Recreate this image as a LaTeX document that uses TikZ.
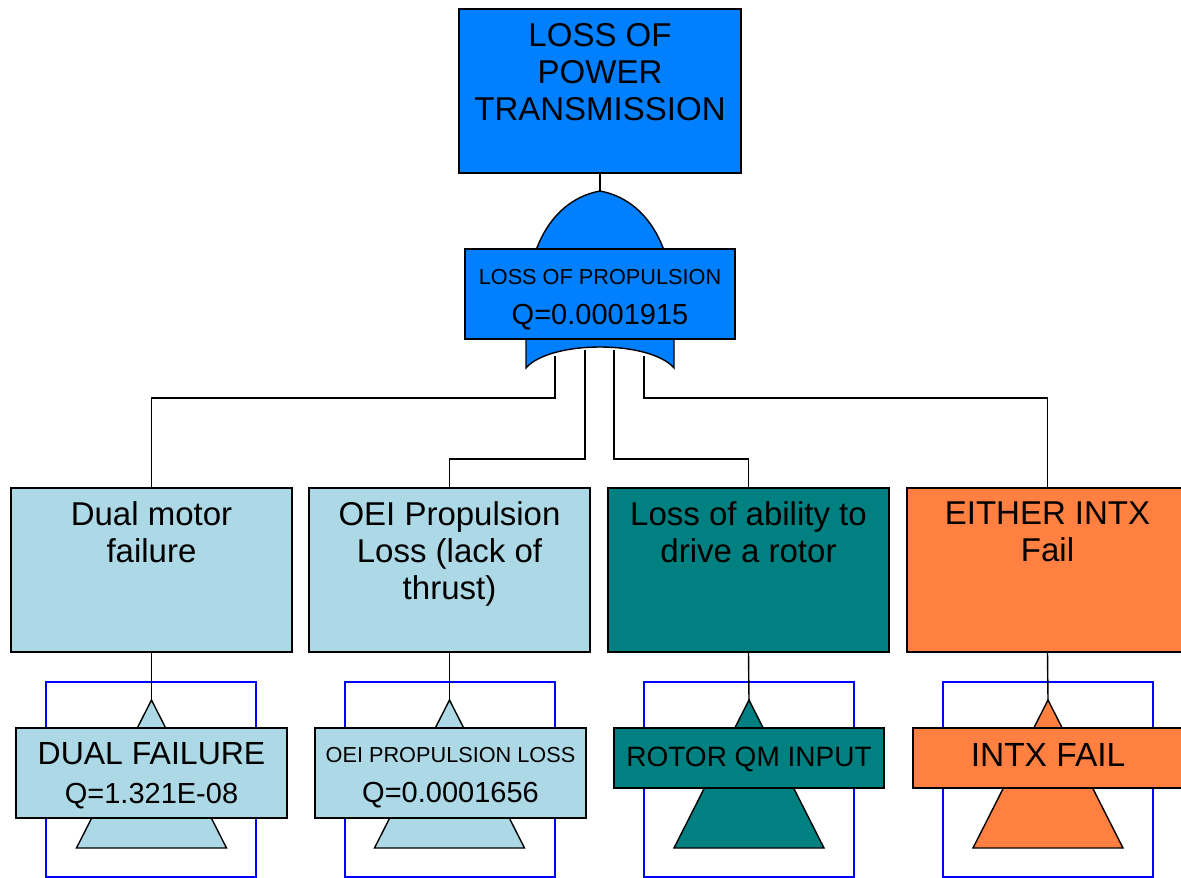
\documentclass[tikz,border=0pt]{standalone}
\usepackage{fontspec}
\setmainfont{Liberation Sans}
\usetikzlibrary{calc}
\definecolor{topblue}{RGB}{0,128,255}
\definecolor{lblue}{RGB}{173,216,230}
\definecolor{tealbox}{RGB}{0,128,128}
\definecolor{orngbox}{RGB}{255,128,64}
\begin{document}
\begin{tikzpicture}[x=1pt,y=-1pt,
  box/.style={draw=black, line width=1.4pt, inner sep=0pt, outer sep=0pt},
  conn/.style={draw=black, line width=1.4pt},
  xfer/.style={draw=blue, line width=1.2pt},
  tri/.style={draw=black, line width=1.4pt},
  txt/.style={inner sep=0pt, outer sep=0pt, align=center, text=black},
  big/.style={font=\fontsize{33}{37}\selectfont},
  small/.style={font=\fontsize{21.7}{26}\selectfont},
  qf/.style={font=\fontsize{29}{34}\selectfont}
]
\useasboundingbox (0,0) rectangle (1181,878);
\clip (0,0) rectangle (1181,878);

% ---- top event
\node[box, fill=topblue, minimum width=282pt, minimum height=164pt] (top) at (600,91) {};
\node[txt, big, anchor=north] (toptxt) at (600,23.5) {LOSS OF\\POWER\\TRANSMISSION};

% ---- level 2 boxes
\node[box, fill=lblue,   minimum width=281pt, minimum height=164pt] (b1) at (151.5,570) {};
\node[box, fill=lblue,   minimum width=281pt, minimum height=164pt] (b2) at (449.5,570) {};
\node[box, fill=tealbox, minimum width=281pt, minimum height=164pt] (b3) at (748.5,570) {};
\node[box, fill=orngbox, minimum width=281pt, minimum height=164pt] (b4) at (1047.5,570) {};
\node[txt, big, anchor=north] (b1t) at (151.5,501.5) {Dual motor\\failure};
\node[txt, big, anchor=north] (b2t) at (449.5,501.5) {OEI Propulsion\\Loss (lack of\\thrust)};
\node[txt, big, anchor=north] (b3t) at (748.5,501.5) {Loss of ability to\\drive a rotor};
\node[txt, big, anchor=north] (b4t) at (1047.5,501.5) {EITHER INTX\\Fail};

% ---- connectors from the OR gate
\coordinate (g1) at (555,356);
\coordinate (g2) at (585,350);
\coordinate (g3) at (614,350);
\coordinate (g4) at (644,356);
\draw[conn] (g1) |- ([yshift=90pt]b1.north) -- (b1.north);
\draw[conn] (g2) |- ([yshift=29pt]b2.north) -- (b2.north);
\draw[conn] (g3) |- ([yshift=29pt]b3.north) -- (b3.north);
\draw[conn] (g4) |- ([yshift=90pt]b4.north) -- (b4.north);

% ---- OR gate
\coordinate (gtop) at (600,191);
\draw[conn] (top.south) -- (gtop);
\path[draw=black, line width=1.4pt, fill=topblue]
  (526,368) -- (526,339) .. controls (520,235) and (562,198) .. (gtop)
  .. controls (638,198) and (680,235) .. (674,339) -- (674,368)
  .. controls (650,340) and (550,340) .. (526,368) -- cycle;
\node[box, fill=topblue, minimum width=270pt, minimum height=90pt] (lop) at (600,294) {};
\node[txt, small, anchor=north] (lopt1) at (600,269.4) {LOSS OF PROPULSION};
\node[txt, qf, anchor=north] (lopt2) at (600,304) {Q=0.0001915};

% ---- transfer symbols
% 1
\draw[xfer] (46,682) rectangle (256,877);
\coordinate (a1) at (151.5,700);
\draw[conn] (b1.south) -- (a1);
\filldraw[tri, fill=lblue] (a1) -- ++(75,148) -- ++(-150,0) -- cycle;
\node[box, fill=lblue, minimum width=271pt, minimum height=90pt] (t1) at (151.5,773) {};
\node[txt, font=\fontsize{32}{36}\selectfont, anchor=north] (t1a) at (151.5,742) {DUAL FAILURE};
\node[txt, qf, anchor=north] (t1b) at (151.5,783) {Q=1.321E-08};
% 2
\draw[xfer] (345,682) rectangle (555,877);
\coordinate (a2) at (449.5,700);
\draw[conn] (b2.south) -- (a2);
\filldraw[tri, fill=lblue] (a2) -- ++(75,148) -- ++(-150,0) -- cycle;
\node[box, fill=lblue, minimum width=271pt, minimum height=90pt] (t2) at (450.5,773) {};
\node[txt, small, anchor=north] (t2a) at (450.5,747.4) {OEI PROPULSION LOSS};
\node[txt, qf, anchor=north] (t2b) at (450.5,782) {Q=0.0001656};
% 3
\draw[xfer] (644,682) rectangle (854,877);
\coordinate (a3) at (749,700);
\draw[conn] (b3.south) -- (a3);
\filldraw[tri, fill=tealbox] (a3) -- ++(75,148) -- ++(-150,0) -- cycle;
\node[box, fill=tealbox, minimum width=270pt, minimum height=60pt] (t3) at (749,758) {};
\node[txt, font=\fontsize{28}{32}\selectfont, anchor=north] (t3a) at (749,747) {ROTOR QM INPUT};
% 4
\draw[xfer] (943,682) rectangle (1153,877);
\coordinate (a4) at (1048,700);
\draw[conn] (b4.south) -- (a4);
\filldraw[tri, fill=orngbox] (a4) -- ++(75,148) -- ++(-150,0) -- cycle;
\node[box, fill=orngbox, minimum width=270pt, minimum height=60pt] (t4) at (1048,758) {};
\node[txt, font=\fontsize{33.5}{38}\selectfont, anchor=north] (t4a) at (1048,743) {INTX FAIL};
\end{tikzpicture}
\end{document}
